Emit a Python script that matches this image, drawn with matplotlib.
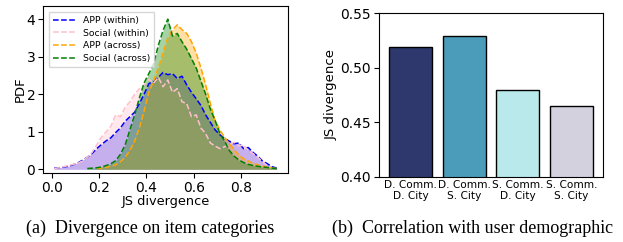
import numpy as np
import matplotlib
matplotlib.use('Agg')
import matplotlib.pyplot as plt

nan = np.nan

# bin centres of the JS divergence histograms
bins = [0.01, 0.03, 0.05, 0.07, 0.09, 0.11, 0.13, 0.15, 0.17, 0.19,
        0.21, 0.23, 0.25, 0.27, 0.29, 0.31, 0.33, 0.35, 0.37, 0.39,
        0.41, 0.43, 0.45, 0.47, 0.49, 0.51, 0.53, 0.55, 0.57, 0.59,
        0.61, 0.63, 0.65, 0.67, 0.69, 0.71, 0.73, 0.75, 0.77, 0.79,
        0.81, 0.83, 0.85, 0.87, 0.89, 0.91, 0.93, 0.95]

app_within = [0.03, 0.04, 0.06, 0.08, 0.12, 0.17, 0.24, 0.32, 0.42, 0.55,
              0.66, 0.76, 0.84, 0.98, 1.10, 1.28, 1.40, 1.52, 1.75, 2.00,
              2.28, 2.35, 2.45, 2.58, 2.52, 2.55, 2.42, 2.48, 2.25, 2.05,
              1.88, 1.70, 1.45, 1.25, 1.05, 0.92, 0.82, 0.75, 0.68, 0.70,
              0.55, 0.58, 0.45, 0.35, 0.22, 0.15, 0.07, 0.03]

social_within = [0.02, 0.04, 0.07, 0.10, 0.13, 0.16, 0.22, 0.32, 0.45, 0.65,
                 0.86, 1.00, 1.15, 1.45, 1.40, 1.65, 1.80, 2.00, 2.15, 2.25,
                 2.40, 2.30, 2.45, 2.20, 2.38, 2.05, 2.15, 1.80, 1.75, 1.40,
                 1.45, 1.10, 0.95, 0.70, 0.62, 0.55, 0.60, 0.65, 0.72, 0.62,
                 0.64, 0.50, 0.42, 0.32, 0.20, 0.10, 0.04, nan]

app_across = [nan, nan, nan, nan, nan, nan, nan, nan, nan, 0.02,
              0.03, 0.05, 0.08, 0.12, 0.20, 0.32, 0.50, 0.75, 1.10, 1.55,
              2.05, 2.35, 2.70, 3.10, 3.50, 3.72, 3.85, 3.72, 3.62, 3.40,
              3.10, 2.70, 2.25, 1.75, 1.30, 1.05, 0.85, 0.68, 0.52, 0.38,
              0.28, 0.22, 0.16, 0.12, 0.09, 0.06, 0.04, 0.02]

social_across = [nan, nan, nan, nan, nan, nan, nan, 0.02, 0.03, 0.04,
                 0.06, 0.10, 0.15, 0.23, 0.40, 0.65, 1.05, 1.45, 1.90, 2.30,
                 2.55, 2.80, 3.30, 3.70, 4.00, 3.55, 3.62, 3.40, 3.20, 2.95,
                 2.70, 2.35, 2.00, 1.60, 1.30, 0.95, 0.75, 0.50, 0.35, 0.25,
                 0.18, 0.13, 0.10, 0.08, 0.06, 0.05, 0.03, 0.02]

groups = ['D. Comm.\nD. City', 'D. Comm.\nS. City', 'S. Comm.\nD. City', 'S. Comm.\nS. City']
group_js = [0.519, 0.529, 0.480, 0.465]
bar_colors = ['#2e386c', '#4b9cba', '#b9e9eb', '#d3d1de']

fig = plt.figure(figsize=(6.23, 2.42), dpi=100)

# (a) distributions
ax1 = fig.add_axes([0.069, 0.285, 0.393, 0.69])
series = [(app_within, 'blue', 'APP (within)'),
          (social_within, 'pink', 'Social (within)'),
          (app_across, 'orange', 'APP (across)'),
          (social_across, 'green', 'Social (across)')]
x = np.array(bins)
for vals, col, lab in series:
    y = np.array(vals, dtype=float)
    ax1.plot(x, y, '--', color=col, lw=1.1, label=lab)
    ax1.fill_between(x, 0, y, color=col, alpha=0.35, lw=0)
ax1.set_xlim(-0.037, 0.997)
ax1.set_ylim(-0.1, 4.35)
ax1.set_xticks([0.0, 0.2, 0.4, 0.6, 0.8])
ax1.set_yticks([0, 1, 2, 3, 4])
ax1.tick_params(labelsize=10, pad=2)
ax1.set_xlabel('JS divergence', fontsize=9.3, labelpad=0)
ax1.set_ylabel('PDF', fontsize=9.5, labelpad=0)
ax1.legend(loc='upper left', fontsize=6.7, handlelength=2.4, borderpad=0.45,
           labelspacing=0.4, handletextpad=0.85, borderaxespad=0.6)

# (b) bars
ax2 = fig.add_axes([0.608, 0.269, 0.36, 0.677])
pos = np.arange(len(groups))
ax2.bar(pos, group_js, width=0.8, color=bar_colors, edgecolor='black', lw=1)
ax2.set_ylim(0.40, 0.55)
ax2.set_yticks([0.40, 0.45, 0.50, 0.55])
ax2.set_xticks(pos)
ax2.set_xticklabels(groups, fontsize=7.6, linespacing=1.2)
ax2.tick_params(axis='y', labelsize=10, pad=2)
ax2.tick_params(axis='x', length=0, pad=2)
ax2.set_ylabel('JS divergence', fontsize=9.5, labelpad=2)

cap = dict(fontsize=13, family='Liberation Serif', ha='center', va='center')
fig.text(0.241, 0.058, '(a)  Divergence on item categories', **cap)
fig.text(0.758, 0.058, '(b)  Correlation with user demographic', **cap)

fig.savefig('out.png', dpi=100)
